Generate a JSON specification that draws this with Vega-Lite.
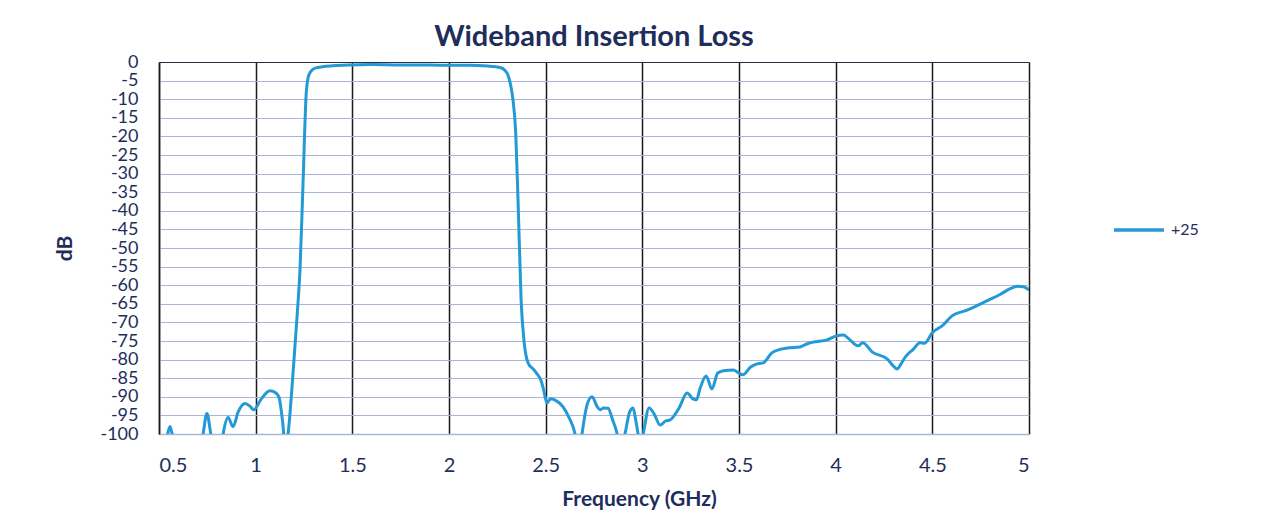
{
  "$schema": "https://vega.github.io/schema/vega-lite/v6.json",
  "autosize": {"type": "none"},
  "width": 870,
  "height": 372,
  "padding": {"left": 159, "top": 62, "right": 254, "bottom": 91},
  "background": "white",
  "title": {
    "text": "Wideband Insertion Loss",
    "font": "Lato",
    "fontSize": 29,
    "fontWeight": "bold",
    "color": "#1f2d5c",
    "anchor": "middle",
    "offset": 1
  },
  "config": {
    "view": {"stroke": null},
    "font": "Lato"
  },
  "data": {
    "values": [
      {"f": 0.5, "db": -106, "series": "+25"},
      {"f": 0.54, "db": -101, "series": "+25"},
      {"f": 0.557, "db": -98, "series": "+25"},
      {"f": 0.575, "db": -102, "series": "+25"},
      {"f": 0.6, "db": -108, "series": "+25"},
      {"f": 0.7, "db": -108, "series": "+25"},
      {"f": 0.728, "db": -100, "series": "+25"},
      {"f": 0.748, "db": -94.5, "series": "+25"},
      {"f": 0.768, "db": -100, "series": "+25"},
      {"f": 0.79, "db": -106, "series": "+25"},
      {"f": 0.82, "db": -104, "series": "+25"},
      {"f": 0.835, "db": -99, "series": "+25"},
      {"f": 0.857, "db": -95.5, "series": "+25"},
      {"f": 0.883, "db": -98, "series": "+25"},
      {"f": 0.91, "db": -94, "series": "+25"},
      {"f": 0.945, "db": -91.8, "series": "+25"},
      {"f": 0.97, "db": -92.5, "series": "+25"},
      {"f": 0.99, "db": -93.5, "series": "+25"},
      {"f": 1.03, "db": -90.5, "series": "+25"},
      {"f": 1.074, "db": -88.4, "series": "+25"},
      {"f": 1.1, "db": -88.8, "series": "+25"},
      {"f": 1.12, "db": -90, "series": "+25"},
      {"f": 1.14, "db": -97, "series": "+25"},
      {"f": 1.152, "db": -103, "series": "+25"},
      {"f": 1.165, "db": -101, "series": "+25"},
      {"f": 1.19, "db": -86, "series": "+25"},
      {"f": 1.214, "db": -68.5, "series": "+25"},
      {"f": 1.23, "db": -55, "series": "+25"},
      {"f": 1.245, "db": -32.5, "series": "+25"},
      {"f": 1.262, "db": -8, "series": "+25"},
      {"f": 1.275, "db": -3.5, "series": "+25"},
      {"f": 1.295, "db": -2.0, "series": "+25"},
      {"f": 1.317, "db": -1.5, "series": "+25"},
      {"f": 1.4, "db": -1.0, "series": "+25"},
      {"f": 1.5, "db": -0.8, "series": "+25"},
      {"f": 1.6, "db": -0.7, "series": "+25"},
      {"f": 1.75, "db": -0.8, "series": "+25"},
      {"f": 1.9, "db": -0.8, "series": "+25"},
      {"f": 2.0, "db": -0.9, "series": "+25"},
      {"f": 2.1, "db": -0.9, "series": "+25"},
      {"f": 2.2, "db": -1.1, "series": "+25"},
      {"f": 2.264, "db": -1.5, "series": "+25"},
      {"f": 2.29, "db": -2.3, "series": "+25"},
      {"f": 2.305, "db": -3.5, "series": "+25"},
      {"f": 2.318, "db": -6, "series": "+25"},
      {"f": 2.331, "db": -10.2, "series": "+25"},
      {"f": 2.345, "db": -19, "series": "+25"},
      {"f": 2.357, "db": -37, "series": "+25"},
      {"f": 2.373, "db": -64, "series": "+25"},
      {"f": 2.388, "db": -75, "series": "+25"},
      {"f": 2.41, "db": -81, "series": "+25"},
      {"f": 2.435, "db": -82.5, "series": "+25"},
      {"f": 2.455, "db": -83.8, "series": "+25"},
      {"f": 2.475, "db": -85.5, "series": "+25"},
      {"f": 2.487, "db": -87.6, "series": "+25"},
      {"f": 2.507, "db": -91.7, "series": "+25"},
      {"f": 2.525, "db": -90.5, "series": "+25"},
      {"f": 2.549, "db": -90.9, "series": "+25"},
      {"f": 2.59, "db": -92.7, "series": "+25"},
      {"f": 2.62, "db": -95.5, "series": "+25"},
      {"f": 2.652, "db": -100, "series": "+25"},
      {"f": 2.665, "db": -104, "series": "+25"},
      {"f": 2.68, "db": -103, "series": "+25"},
      {"f": 2.688, "db": -100, "series": "+25"},
      {"f": 2.715, "db": -92, "series": "+25"},
      {"f": 2.74, "db": -90, "series": "+25"},
      {"f": 2.765, "db": -92.5, "series": "+25"},
      {"f": 2.781, "db": -93.5, "series": "+25"},
      {"f": 2.8, "db": -93, "series": "+25"},
      {"f": 2.823, "db": -93.1, "series": "+25"},
      {"f": 2.845, "db": -96, "series": "+25"},
      {"f": 2.87, "db": -100, "series": "+25"},
      {"f": 2.885, "db": -104, "series": "+25"},
      {"f": 2.9, "db": -102, "series": "+25"},
      {"f": 2.91, "db": -100, "series": "+25"},
      {"f": 2.935, "db": -94, "series": "+25"},
      {"f": 2.952, "db": -93, "series": "+25"},
      {"f": 2.965, "db": -96, "series": "+25"},
      {"f": 2.978, "db": -100, "series": "+25"},
      {"f": 2.99, "db": -103, "series": "+25"},
      {"f": 3.004, "db": -100, "series": "+25"},
      {"f": 3.035, "db": -93, "series": "+25"},
      {"f": 3.06, "db": -94.5, "series": "+25"},
      {"f": 3.092, "db": -97.6, "series": "+25"},
      {"f": 3.12, "db": -96.5, "series": "+25"},
      {"f": 3.144, "db": -96.2, "series": "+25"},
      {"f": 3.19, "db": -93, "series": "+25"},
      {"f": 3.232, "db": -89, "series": "+25"},
      {"f": 3.26, "db": -90.5, "series": "+25"},
      {"f": 3.28, "db": -90.8, "series": "+25"},
      {"f": 3.3, "db": -87.5, "series": "+25"},
      {"f": 3.33, "db": -84.4, "series": "+25"},
      {"f": 3.36, "db": -87.9, "series": "+25"},
      {"f": 3.39, "db": -83.6, "series": "+25"},
      {"f": 3.42, "db": -83, "series": "+25"},
      {"f": 3.47, "db": -82.8, "series": "+25"},
      {"f": 3.52, "db": -84.1, "series": "+25"},
      {"f": 3.56, "db": -82, "series": "+25"},
      {"f": 3.59, "db": -81.2, "series": "+25"},
      {"f": 3.625, "db": -80.9, "series": "+25"},
      {"f": 3.67, "db": -78.2, "series": "+25"},
      {"f": 3.71, "db": -77.3, "series": "+25"},
      {"f": 3.75, "db": -76.9, "series": "+25"},
      {"f": 3.816, "db": -76.6, "series": "+25"},
      {"f": 3.85, "db": -75.8, "series": "+25"},
      {"f": 3.883, "db": -75.3, "series": "+25"},
      {"f": 3.955, "db": -74.7, "series": "+25"},
      {"f": 4.0, "db": -73.7, "series": "+25"},
      {"f": 4.04, "db": -73.4, "series": "+25"},
      {"f": 4.07, "db": -74.5, "series": "+25"},
      {"f": 4.116, "db": -76.3, "series": "+25"},
      {"f": 4.14, "db": -75.5, "series": "+25"},
      {"f": 4.19, "db": -78, "series": "+25"},
      {"f": 4.266, "db": -79.8, "series": "+25"},
      {"f": 4.3, "db": -81.8, "series": "+25"},
      {"f": 4.318, "db": -82.5, "series": "+25"},
      {"f": 4.34, "db": -81, "series": "+25"},
      {"f": 4.36, "db": -79.3, "series": "+25"},
      {"f": 4.4, "db": -77.3, "series": "+25"},
      {"f": 4.437, "db": -75.5, "series": "+25"},
      {"f": 4.46, "db": -75.6, "series": "+25"},
      {"f": 4.5, "db": -72.8, "series": "+25"},
      {"f": 4.556, "db": -70.7, "series": "+25"},
      {"f": 4.6, "db": -68.3, "series": "+25"},
      {"f": 4.68, "db": -66.7, "series": "+25"},
      {"f": 4.79, "db": -64, "series": "+25"},
      {"f": 4.85, "db": -62.5, "series": "+25"},
      {"f": 4.9, "db": -61, "series": "+25"},
      {"f": 4.94, "db": -60.3, "series": "+25"},
      {"f": 4.97, "db": -60.4, "series": "+25"},
      {"f": 5.0, "db": -61.3, "series": "+25"}
    ]
  },
  "mark": {"type": "line", "strokeWidth": 3, "clip": true, "interpolate": "monotone"},
  "encoding": {
    "x": {
      "field": "f",
      "type": "quantitative",
      "scale": {"domain": [0.5, 5], "nice": false, "zero": false},
      "axis": {
        "values": [0.5, 1, 1.5, 2, 2.5, 3, 3.5, 4, 4.5, 5],
        "format": "~g",
        "title": "Frequency (GHz)",
        "titleFont": "Lato",
        "titleFontSize": 21,
        "titleFontWeight": "bold",
        "titleColor": "#1f2d5c",
        "titleX": 480,
        "titleY": 71,
        "titleAlign": "center",
        "titleBaseline": "alphabetic",
        "labelFont": "Lato",
        "labelFontSize": 20,
        "labelColor": "#1f2d5c",
        "labelPadding": 21,
        "ticks": false,
        "domain": true,
        "domainColor": "#aab8d8",
        "domainWidth": 1.5,
        "grid": true,
        "gridColor": "#1a1a1a",
        "gridWidth": 1.5,
        "gridOpacity": 1
      }
    },
    "y": {
      "field": "db",
      "type": "quantitative",
      "scale": {"domain": [-100, 0], "nice": false, "zero": false},
      "axis": {
        "values": [0, -5, -10, -15, -20, -25, -30, -35, -40, -45, -50, -55, -60, -65, -70, -75, -80, -85, -90, -95, -100],
        "labelExpr": "'' + datum.value",
        "title": "dB",
        "titleFont": "Lato",
        "titleFontSize": 21,
        "titleFontWeight": "bold",
        "titleColor": "#1f2d5c",
        "titleX": -84,
        "titleY": 186,
        "titleAngle": -90,
        "titleAlign": "center",
        "titleBaseline": "bottom",
        "labelFont": "Lato",
        "labelFontSize": 18,
        "labelColor": "#1f2d5c",
        "labelPadding": 21,
        "labelOverlap": false,
        "labelBound": false,
        "labelFlush": false,
        "ticks": false,
        "domain": true,
        "domainColor": "#1a1a1a",
        "domainWidth": 1.5,
        "grid": true,
        "gridColor": {"condition": {"test": "datum.value === 0", "value": "#2a2f45"}, "value": "#a8b6d6"},
        "gridWidth": 1.2,
        "gridOpacity": 1
      }
    },
    "color": {
      "field": "series",
      "type": "nominal",
      "scale": {"range": ["#2399d6"]},
      "legend": {
        "title": null,
        "orient": "none",
        "legendX": 953,
        "legendY": 141,
        "symbolType": "stroke",
        "symbolSize": 2500,
        "symbolStrokeWidth": 3.5,
        "labelFont": "Lato",
        "labelFontSize": 16,
        "labelColor": "#1f2d5c",
        "labelOffset": 5
      }
    }
  }
}
